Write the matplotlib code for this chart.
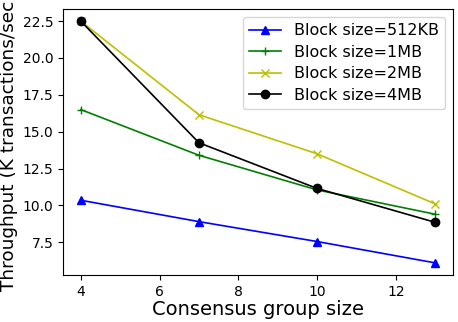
import matplotlib
matplotlib.use('Agg')
import matplotlib.pyplot as plt

group_size = [4, 7, 10, 13]
tp_512kb = [10.35, 8.9, 7.55, 6.1]
tp_1mb = [16.5, 13.4, 11.05, 9.4]
tp_2mb = [22.5, 16.15, 13.5, 10.1]
tp_4mb = [22.5, 14.25, 11.15, 8.85]

fig = plt.figure(figsize=(4.58, 3.22), dpi=100)
ax = fig.add_axes([63 / 458, 1 - 275 / 322, 390 / 458, 266 / 322])

ax.plot(group_size, tp_512kb, 'b^-', markersize=6, linewidth=1.2, label='Block size=512KB')
ax.plot(group_size, tp_1mb, 'g+-', markersize=6, linewidth=1.2, label='Block size=1MB')
ax.plot(group_size, tp_2mb, 'yx-', markersize=6, linewidth=1.2, label='Block size=2MB')
ax.plot(group_size, tp_4mb, 'ko-', markersize=6, linewidth=1.2, label='Block size=4MB')

ax.set_xticks([4, 6, 8, 10, 12])
ax.tick_params(labelsize=10)
ax.set_xlabel('Consensus group size', fontsize=14, labelpad=1)
ax.set_ylabel('Throughput (K transactions/sec)', fontsize=13.3, labelpad=3)
ax.legend(loc='upper right', fontsize=11.5, handlelength=2.0, labelspacing=0.4)

fig.savefig('out.png', dpi=100)
